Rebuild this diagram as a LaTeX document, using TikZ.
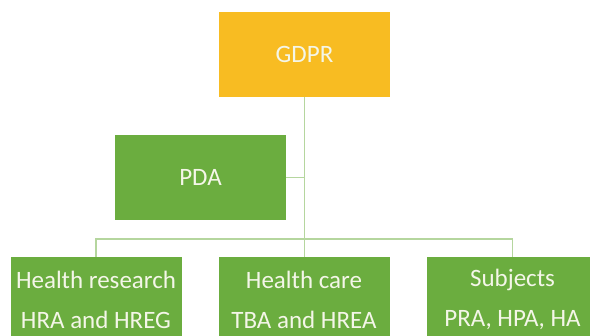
\documentclass[tikz,border=0pt]{standalone}
\usepackage{fontspec}
\setmainfont{Carlito}
\definecolor{gold}{HTML}{F8BC22}
\definecolor{leaf}{HTML}{6BAD3F}
\definecolor{wire}{HTML}{B5D69E}
\definecolor{ink}{HTML}{F4F6E8}
\begin{document}
\begin{tikzpicture}[x=0.75pt,y=-0.75pt,
  box/.style={rectangle, inner sep=0pt, minimum width=171*0.75pt, minimum height=85*0.75pt,
    text=ink, align=center, font=\fontsize{18.75}{30}\selectfont},
  goldbox/.style={box, fill=gold},
  leafbox/.style={box, fill=leaf},
  wireline/.style={draw=wire, line width=1.1pt}]
\clip (0,0) rectangle (590,336);
\fill[white] (0,0) rectangle (590,336);
\node[goldbox] (gdpr) at (304.5,54.5) {GDPR};
\node[leafbox] (pda) at (200.5,177.5) {PDA};
\node[leafbox] (hr) at (96,299.5) {Health research\\HRA and HREG};
\node[leafbox] (hc) at (304,299.5) {Health care\\TBA and HREA};
\node[leafbox] (sub) at (512.5,299.5) {Subjects\\PRA, HPA, HA};
\coordinate (bus) at (304.5,239);
\draw[wireline] (gdpr.south) -- (gdpr.south |- hc.north);
\draw[wireline] (pda.east) -- (pda.east -| gdpr.south);
\draw[wireline] (hr.north) -- (hr.north |- bus) -- (sub.north |- bus) -- (sub.north);
\end{tikzpicture}
\end{document}
